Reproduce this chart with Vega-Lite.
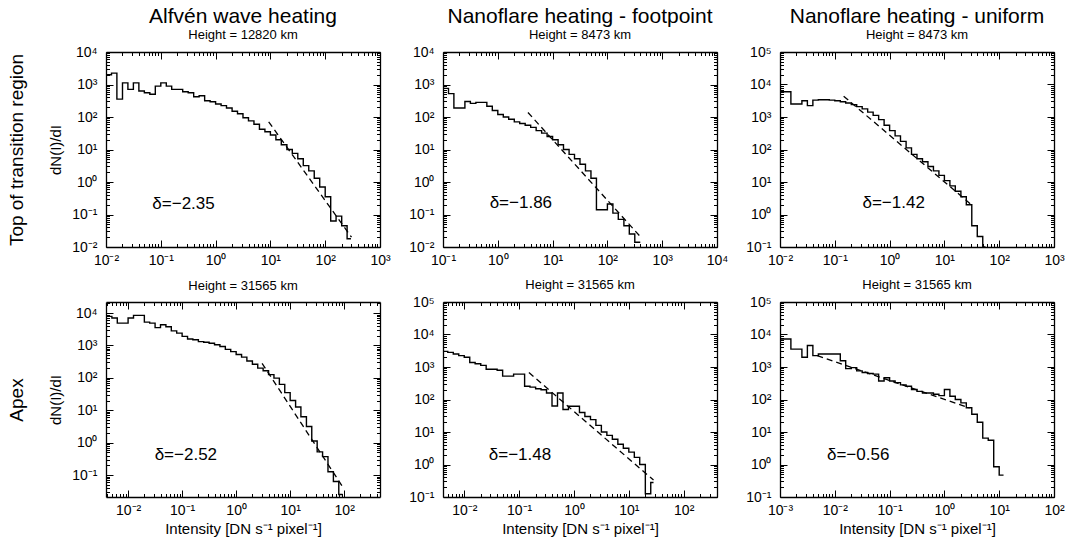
{
  "$schema": "https://vega.github.io/schema/vega-lite/v6.json",
  "background": "white",
  "padding": {"left": 7, "top": 6, "right": 15, "bottom": 3},
  "config": {
    "font": "Liberation Sans",
    "view": {"stroke": null},
    "axis": {"domainColor": "black", "domainWidth": 1.3, "tickColor": "black", "tickWidth": 1, "labelFont": "Liberation Sans", "labelFontSize": 14, "labelColor": "black", "titleFont": "Liberation Sans", "titleFontWeight": "normal", "titleColor": "black", "grid": false, "labelFlush": false, "labelOverlap": false, "tickCount": 20},
    "axisX": {"labelPadding": 13, "titleFontSize": 15, "titlePadding": 1},
    "axisY": {"labelPadding": 16, "titleFontSize": 15, "titlePadding": 8},
    "title": {"font": "Liberation Sans", "fontWeight": "normal", "fontSize": 21, "color": "black", "subtitleFont": "Liberation Sans", "subtitleFontSize": 13, "subtitleColor": "black", "subtitlePadding": 2, "offset": 3, "frame": "group", "anchor": "middle"}
  },
  "datasets": {
    "h1": [{"I":0.01,"N":2000},{"I":0.0126,"N":2240},{"I":0.0158,"N":355},{"I":0.02,"N":1120},{"I":0.0251,"N":710},{"I":0.0316,"N":1120},{"I":0.0398,"N":630},{"I":0.0501,"N":560},{"I":0.0631,"N":500},{"I":0.0794,"N":890},{"I":0.1,"N":1120},{"I":0.126,"N":890},{"I":0.158,"N":710},{"I":0.2,"N":710},{"I":0.251,"N":600},{"I":0.316,"N":560},{"I":0.398,"N":420},{"I":0.501,"N":450},{"I":0.631,"N":316},{"I":0.794,"N":295},{"I":1,"N":251},{"I":1.26,"N":224},{"I":1.58,"N":190},{"I":2,"N":151},{"I":2.51,"N":126},{"I":3.16,"N":95},{"I":3.98,"N":76},{"I":5.01,"N":60},{"I":6.31,"N":42},{"I":7.94,"N":35},{"I":10,"N":28},{"I":12.6,"N":20},{"I":15.8,"N":14},{"I":20,"N":10},{"I":25.1,"N":7.6},{"I":31.6,"N":5.2},{"I":39.8,"N":3.2},{"I":50.1,"N":2.2},{"I":63.1,"N":1.3},{"I":79.4,"N":0.7},{"I":100,"N":0.35},{"I":126,"N":0.063},{"I":158,"N":0.089},{"I":200,"N":0.045},{"I":251,"N":0.018},{"I":295,"N":0.018}],
    "f1": [{"I":9.3,"N":71},{"I":302,"N":0.02}],
    "h2": [{"I":0.1,"N":760},{"I":0.126,"N":525},{"I":0.158,"N":190},{"I":0.2,"N":190},{"I":0.251,"N":300},{"I":0.316,"N":263},{"I":0.398,"N":282},{"I":0.501,"N":282},{"I":0.631,"N":214},{"I":0.794,"N":158},{"I":1,"N":120},{"I":1.26,"N":100},{"I":1.58,"N":85},{"I":2,"N":71},{"I":2.51,"N":63},{"I":3.16,"N":56},{"I":3.98,"N":48},{"I":5.01,"N":38},{"I":6.31,"N":32},{"I":7.94,"N":25},{"I":10,"N":20},{"I":12.6,"N":14},{"I":15.8,"N":10},{"I":20,"N":7.1},{"I":25.1,"N":5.2},{"I":31.6,"N":3.5},{"I":39.8,"N":2.2},{"I":50.1,"N":1.3},{"I":63.1,"N":0.14},{"I":79.4,"N":0.14},{"I":100,"N":0.21},{"I":126,"N":0.11},{"I":158,"N":0.071},{"I":200,"N":0.045},{"I":251,"N":0.025},{"I":316,"N":0.014},{"I":398,"N":0.014}],
    "f2": [{"I":3.55,"N":138},{"I":398,"N":0.0209}],
    "h3": [{"I":0.01,"N":6000},{"I":0.0158,"N":2510},{"I":0.0251,"N":3160},{"I":0.0316,"N":2240},{"I":0.0398,"N":3310},{"I":0.0501,"N":3390},{"I":0.0631,"N":3390},{"I":0.0794,"N":3310},{"I":0.1,"N":3160},{"I":0.126,"N":2950},{"I":0.158,"N":2690},{"I":0.2,"N":2400},{"I":0.251,"N":2090},{"I":0.316,"N":1780},{"I":0.398,"N":1410},{"I":0.501,"N":1120},{"I":0.631,"N":830},{"I":0.794,"N":560},{"I":1,"N":380},{"I":1.26,"N":263},{"I":1.58,"N":178},{"I":2,"N":112},{"I":2.51,"N":71},{"I":3.16,"N":52},{"I":3.98,"N":42},{"I":5.01,"N":30},{"I":6.31,"N":22},{"I":7.94,"N":16},{"I":10,"N":11},{"I":12.6,"N":7.6},{"I":15.8,"N":5.2},{"I":20,"N":3.5},{"I":25.1,"N":2.0},{"I":31.6,"N":0.45},{"I":39.8,"N":0.21},{"I":50.1,"N":0.1},{"I":56.2,"N":0.1}],
    "f3": [{"I":0.145,"N":4365},{"I":33.1,"N":1.82}],
    "h4": [{"I":0.0039,"N":7940},{"I":0.00501,"N":7080},{"I":0.00631,"N":4900},{"I":0.00794,"N":4900},{"I":0.01,"N":7080},{"I":0.0126,"N":8510},{"I":0.0158,"N":8510},{"I":0.02,"N":5250},{"I":0.0251,"N":4900},{"I":0.0316,"N":3550},{"I":0.0398,"N":4370},{"I":0.0501,"N":3800},{"I":0.0631,"N":2820},{"I":0.0794,"N":2400},{"I":0.1,"N":1905},{"I":0.126,"N":1585},{"I":0.158,"N":1510},{"I":0.2,"N":1320},{"I":0.251,"N":1260},{"I":0.316,"N":1175},{"I":0.398,"N":1050},{"I":0.501,"N":933},{"I":0.631,"N":760},{"I":0.794,"N":646},{"I":1,"N":525},{"I":1.26,"N":437},{"I":1.58,"N":331},{"I":2,"N":263},{"I":2.51,"N":200},{"I":3.16,"N":166},{"I":3.98,"N":126},{"I":5.01,"N":98},{"I":6.31,"N":63},{"I":7.94,"N":35},{"I":10,"N":20},{"I":12.6,"N":12.6},{"I":15.8,"N":6.3},{"I":20,"N":3.16},{"I":25.1,"N":1.12},{"I":31.6,"N":0.52},{"I":39.8,"N":0.37},{"I":50.1,"N":0.126},{"I":63.1,"N":0.063},{"I":79.4,"N":0.025},{"I":93.3,"N":0.025}],
    "f4": [{"I":3.02,"N":282},{"I":97.7,"N":0.039}],
    "h5": [{"I":0.0041,"N":3020},{"I":0.00501,"N":2820},{"I":0.00631,"N":2510},{"I":0.00794,"N":2240},{"I":0.01,"N":2000},{"I":0.0126,"N":1380},{"I":0.0158,"N":1260},{"I":0.02,"N":1120},{"I":0.0251,"N":850},{"I":0.0316,"N":850},{"I":0.0398,"N":794},{"I":0.0501,"N":525},{"I":0.0631,"N":525},{"I":0.0794,"N":603},{"I":0.1,"N":603},{"I":0.126,"N":257},{"I":0.158,"N":240},{"I":0.2,"N":214},{"I":0.251,"N":200},{"I":0.316,"N":158},{"I":0.398,"N":63},{"I":0.501,"N":158},{"I":0.631,"N":49},{"I":0.794,"N":62},{"I":1,"N":62},{"I":1.26,"N":40},{"I":1.58,"N":30},{"I":2,"N":24},{"I":2.51,"N":16},{"I":3.16,"N":10},{"I":3.98,"N":7.9},{"I":5.01,"N":6.0},{"I":6.31,"N":4.2},{"I":7.94,"N":3.16},{"I":10,"N":2.4},{"I":12.6,"N":1.66},{"I":15.8,"N":1.0},{"I":20,"N":0.126},{"I":25.1,"N":0.28},{"I":28.2,"N":0.28}],
    "f5": [{"I":0.151,"N":676},{"I":28.2,"N":0.331}],
    "h6": [{"I":0.001,"N":7240},{"I":0.00158,"N":3550},{"I":0.00251,"N":2000},{"I":0.00316,"N":4570},{"I":0.00398,"N":2240},{"I":0.00501,"N":2510},{"I":0.0126,"N":1550},{"I":0.0158,"N":890},{"I":0.02,"N":955},{"I":0.0251,"N":760},{"I":0.0316,"N":676},{"I":0.0398,"N":631},{"I":0.0501,"N":603},{"I":0.0631,"N":372},{"I":0.0794,"N":468},{"I":0.1,"N":372},{"I":0.126,"N":331},{"I":0.158,"N":282},{"I":0.2,"N":257},{"I":0.251,"N":204},{"I":0.316,"N":178},{"I":0.398,"N":158},{"I":0.631,"N":145},{"I":0.794,"N":132},{"I":1,"N":204},{"I":1.26,"N":126},{"I":1.58,"N":100},{"I":2,"N":79},{"I":2.51,"N":56},{"I":3.16,"N":35},{"I":3.98,"N":20},{"I":5.01,"N":6.5},{"I":6.31,"N":5.6},{"I":7.94,"N":0.85},{"I":10,"N":0.47},{"I":12,"N":0.47}],
    "f6": [{"I":0.00479,"N":2240},{"I":2.88,"N":55}]
  },
  "columns": 3,
  "bounds": "flush",
  "spacing": {"row": 55, "column": 63},
  "concat": [
    {
      "width": 274, "height": 195,
      "title": {"text": "Alfvén wave heating", "subtitle": "Height = 12820 km"},
      "resolve": {"axis": {"x": "independent", "y": "independent"}},
      "layer": [
        {"data": {"name": "h1"}, "mark": {"type": "line", "interpolate": "step-after", "color": "black", "strokeWidth": 1.4, "clip": true},
         "encoding": {
           "x": {"field": "I", "type": "quantitative", "scale": {"type": "log", "domain": [0.01, 1000], "nice": false}, "axis": {"orient": "bottom", "title": null, "labelExpr": "abs(log(datum.value)/LN10-round(log(datum.value)/LN10))<0.001 ? '10'+replace(replace(replace(replace(replace(replace(replace(''+round(log(datum.value)/LN10),'-','⁻'),'0','⁰'),'1','¹'),'2','²'),'3','³'),'4','⁴'),'5','⁵') : ''", "tickSize": {"condition": {"test": "abs(log(datum.value)/LN10-round(log(datum.value)/LN10))<0.001", "value": -7}, "value": -3.5}}},
           "y": {"field": "N", "type": "quantitative", "scale": {"type": "log", "domain": [0.01, 10000], "nice": false}, "axis": {"orient": "left", "title": "dN(I)/dI", "labelExpr": "abs(log(datum.value)/LN10-round(log(datum.value)/LN10))<0.001 ? '10'+replace(replace(replace(replace(replace(replace(replace(''+round(log(datum.value)/LN10),'-','⁻'),'0','⁰'),'1','¹'),'2','²'),'3','³'),'4','⁴'),'5','⁵') : ''", "tickSize": {"condition": {"test": "abs(log(datum.value)/LN10-round(log(datum.value)/LN10))<0.001", "value": -7}, "value": -3.5}}}
         }},
        {"data": {"name": "f1"}, "mark": {"type": "line", "color": "black", "strokeWidth": 1.3, "strokeDash": [6, 4], "clip": true},
         "encoding": {
           "x": {"field": "I", "type": "quantitative", "scale": {"type": "log", "domain": [0.01, 1000], "nice": false}, "axis": {"orient": "top", "title": null, "labels": false, "tickSize": {"condition": {"test": "abs(log(datum.value)/LN10-round(log(datum.value)/LN10))<0.001", "value": -7}, "value": -3.5}}},
           "y": {"field": "N", "type": "quantitative", "scale": {"type": "log", "domain": [0.01, 10000], "nice": false}, "axis": {"orient": "right", "title": null, "labels": false, "tickSize": {"condition": {"test": "abs(log(datum.value)/LN10-round(log(datum.value)/LN10))<0.001", "value": -7}, "value": -3.5}}}
         }},
        {"data": {"values": [{"I": 0.07, "N": 0.21, "t": "δ=−2.35"}]}, "mark": {"type": "text", "align": "left", "baseline": "middle", "fontSize": 17, "font": "Liberation Sans", "color": "black"},
         "encoding": {
           "x": {"field": "I", "type": "quantitative", "scale": {"type": "log", "domain": [0.01, 1000], "nice": false}, "axis": null},
           "y": {"field": "N", "type": "quantitative", "scale": {"type": "log", "domain": [0.01, 10000], "nice": false}, "axis": {"orient": "left", "title": "Top of transition region", "titleFontSize": 19, "titlePadding": 80, "labels": false, "ticks": false, "domain": false}},
           "text": {"field": "t"}
         }}
      ]
    },
    {
      "width": 274, "height": 195,
      "title": {"text": "Nanoflare heating - footpoint", "subtitle": "Height = 8473 km"},
      "resolve": {"axis": {"x": "independent", "y": "independent"}},
      "layer": [
        {"data": {"name": "h2"}, "mark": {"type": "line", "interpolate": "step-after", "color": "black", "strokeWidth": 1.4, "clip": true},
         "encoding": {
           "x": {"field": "I", "type": "quantitative", "scale": {"type": "log", "domain": [0.1, 10000], "nice": false}, "axis": {"orient": "bottom", "title": null, "labelExpr": "abs(log(datum.value)/LN10-round(log(datum.value)/LN10))<0.001 ? '10'+replace(replace(replace(replace(replace(replace(replace(''+round(log(datum.value)/LN10),'-','⁻'),'0','⁰'),'1','¹'),'2','²'),'3','³'),'4','⁴'),'5','⁵') : ''", "tickSize": {"condition": {"test": "abs(log(datum.value)/LN10-round(log(datum.value)/LN10))<0.001", "value": -7}, "value": -3.5}}},
           "y": {"field": "N", "type": "quantitative", "scale": {"type": "log", "domain": [0.01, 10000], "nice": false}, "axis": {"orient": "left", "title": null, "labelExpr": "abs(log(datum.value)/LN10-round(log(datum.value)/LN10))<0.001 ? '10'+replace(replace(replace(replace(replace(replace(replace(''+round(log(datum.value)/LN10),'-','⁻'),'0','⁰'),'1','¹'),'2','²'),'3','³'),'4','⁴'),'5','⁵') : ''", "tickSize": {"condition": {"test": "abs(log(datum.value)/LN10-round(log(datum.value)/LN10))<0.001", "value": -7}, "value": -3.5}}}
         }},
        {"data": {"name": "f2"}, "mark": {"type": "line", "color": "black", "strokeWidth": 1.3, "strokeDash": [6, 4], "clip": true},
         "encoding": {
           "x": {"field": "I", "type": "quantitative", "scale": {"type": "log", "domain": [0.1, 10000], "nice": false}, "axis": {"orient": "top", "title": null, "labels": false, "tickSize": {"condition": {"test": "abs(log(datum.value)/LN10-round(log(datum.value)/LN10))<0.001", "value": -7}, "value": -3.5}}},
           "y": {"field": "N", "type": "quantitative", "scale": {"type": "log", "domain": [0.01, 10000], "nice": false}, "axis": {"orient": "right", "title": null, "labels": false, "tickSize": {"condition": {"test": "abs(log(datum.value)/LN10-round(log(datum.value)/LN10))<0.001", "value": -7}, "value": -3.5}}}
         }},
        {"data": {"values": [{"I": 0.71, "N": 0.22, "t": "δ=−1.86"}]}, "mark": {"type": "text", "align": "left", "baseline": "middle", "fontSize": 17, "font": "Liberation Sans", "color": "black"},
         "encoding": {
           "x": {"field": "I", "type": "quantitative", "scale": {"type": "log", "domain": [0.1, 10000], "nice": false}, "axis": null},
           "y": {"field": "N", "type": "quantitative", "scale": {"type": "log", "domain": [0.01, 10000], "nice": false}, "axis": null},
           "text": {"field": "t"}
         }}
      ]
    },
    {
      "width": 274, "height": 195,
      "title": {"text": "Nanoflare heating - uniform", "subtitle": "Height = 8473 km"},
      "resolve": {"axis": {"x": "independent", "y": "independent"}},
      "layer": [
        {"data": {"name": "h3"}, "mark": {"type": "line", "interpolate": "step-after", "color": "black", "strokeWidth": 1.4, "clip": true},
         "encoding": {
           "x": {"field": "I", "type": "quantitative", "scale": {"type": "log", "domain": [0.01, 1000], "nice": false}, "axis": {"orient": "bottom", "title": null, "labelExpr": "abs(log(datum.value)/LN10-round(log(datum.value)/LN10))<0.001 ? '10'+replace(replace(replace(replace(replace(replace(replace(''+round(log(datum.value)/LN10),'-','⁻'),'0','⁰'),'1','¹'),'2','²'),'3','³'),'4','⁴'),'5','⁵') : ''", "tickSize": {"condition": {"test": "abs(log(datum.value)/LN10-round(log(datum.value)/LN10))<0.001", "value": -7}, "value": -3.5}}},
           "y": {"field": "N", "type": "quantitative", "scale": {"type": "log", "domain": [0.1, 100000], "nice": false}, "axis": {"orient": "left", "title": null, "labelExpr": "abs(log(datum.value)/LN10-round(log(datum.value)/LN10))<0.001 ? '10'+replace(replace(replace(replace(replace(replace(replace(''+round(log(datum.value)/LN10),'-','⁻'),'0','⁰'),'1','¹'),'2','²'),'3','³'),'4','⁴'),'5','⁵') : ''", "tickSize": {"condition": {"test": "abs(log(datum.value)/LN10-round(log(datum.value)/LN10))<0.001", "value": -7}, "value": -3.5}}}
         }},
        {"data": {"name": "f3"}, "mark": {"type": "line", "color": "black", "strokeWidth": 1.3, "strokeDash": [6, 4], "clip": true},
         "encoding": {
           "x": {"field": "I", "type": "quantitative", "scale": {"type": "log", "domain": [0.01, 1000], "nice": false}, "axis": {"orient": "top", "title": null, "labels": false, "tickSize": {"condition": {"test": "abs(log(datum.value)/LN10-round(log(datum.value)/LN10))<0.001", "value": -7}, "value": -3.5}}},
           "y": {"field": "N", "type": "quantitative", "scale": {"type": "log", "domain": [0.1, 100000], "nice": false}, "axis": {"orient": "right", "title": null, "labels": false, "tickSize": {"condition": {"test": "abs(log(datum.value)/LN10-round(log(datum.value)/LN10))<0.001", "value": -7}, "value": -3.5}}}
         }},
        {"data": {"values": [{"I": 0.32, "N": 2.3, "t": "δ=−1.42"}]}, "mark": {"type": "text", "align": "left", "baseline": "middle", "fontSize": 17, "font": "Liberation Sans", "color": "black"},
         "encoding": {
           "x": {"field": "I", "type": "quantitative", "scale": {"type": "log", "domain": [0.01, 1000], "nice": false}, "axis": null},
           "y": {"field": "N", "type": "quantitative", "scale": {"type": "log", "domain": [0.1, 100000], "nice": false}, "axis": null},
           "text": {"field": "t"}
         }}
      ]
    },
    {
      "width": 274, "height": 195,
      "title": {"text": "Height = 31565 km", "fontSize": 13, "offset": 3},
      "resolve": {"axis": {"x": "independent", "y": "independent"}},
      "layer": [
        {"data": {"name": "h4"}, "mark": {"type": "line", "interpolate": "step-after", "color": "black", "strokeWidth": 1.4, "clip": true},
         "encoding": {
           "x": {"field": "I", "type": "quantitative", "scale": {"type": "log", "domain": [0.0039, 460], "nice": false}, "axis": {"orient": "bottom", "title": "Intensity [DN s⁻¹ pixel⁻¹]", "labelExpr": "abs(log(datum.value)/LN10-round(log(datum.value)/LN10))<0.001 ? '10'+replace(replace(replace(replace(replace(replace(replace(''+round(log(datum.value)/LN10),'-','⁻'),'0','⁰'),'1','¹'),'2','²'),'3','³'),'4','⁴'),'5','⁵') : ''", "tickSize": {"condition": {"test": "abs(log(datum.value)/LN10-round(log(datum.value)/LN10))<0.001", "value": -7}, "value": -3.5}}},
           "y": {"field": "N", "type": "quantitative", "scale": {"type": "log", "domain": [0.021, 22000], "nice": false}, "axis": {"orient": "left", "title": "dN(I)/dI", "labelExpr": "abs(log(datum.value)/LN10-round(log(datum.value)/LN10))<0.001 ? '10'+replace(replace(replace(replace(replace(replace(replace(''+round(log(datum.value)/LN10),'-','⁻'),'0','⁰'),'1','¹'),'2','²'),'3','³'),'4','⁴'),'5','⁵') : ''", "tickSize": {"condition": {"test": "abs(log(datum.value)/LN10-round(log(datum.value)/LN10))<0.001", "value": -7}, "value": -3.5}}}
         }},
        {"data": {"name": "f4"}, "mark": {"type": "line", "color": "black", "strokeWidth": 1.3, "strokeDash": [6, 4], "clip": true},
         "encoding": {
           "x": {"field": "I", "type": "quantitative", "scale": {"type": "log", "domain": [0.0039, 460], "nice": false}, "axis": {"orient": "top", "title": null, "labels": false, "tickSize": {"condition": {"test": "abs(log(datum.value)/LN10-round(log(datum.value)/LN10))<0.001", "value": -7}, "value": -3.5}}},
           "y": {"field": "N", "type": "quantitative", "scale": {"type": "log", "domain": [0.021, 22000], "nice": false}, "axis": {"orient": "right", "title": null, "labels": false, "tickSize": {"condition": {"test": "abs(log(datum.value)/LN10-round(log(datum.value)/LN10))<0.001", "value": -7}, "value": -3.5}}}
         }},
        {"data": {"values": [{"I": 0.031, "N": 0.42, "t": "δ=−2.52"}]}, "mark": {"type": "text", "align": "left", "baseline": "middle", "fontSize": 17, "font": "Liberation Sans", "color": "black"},
         "encoding": {
           "x": {"field": "I", "type": "quantitative", "scale": {"type": "log", "domain": [0.0039, 460], "nice": false}, "axis": null},
           "y": {"field": "N", "type": "quantitative", "scale": {"type": "log", "domain": [0.021, 22000], "nice": false}, "axis": {"orient": "left", "title": "Apex", "titleFontSize": 19, "titlePadding": 80, "labels": false, "ticks": false, "domain": false}},
           "text": {"field": "t"}
         }}
      ]
    },
    {
      "width": 274, "height": 195,
      "title": {"text": "Height = 31565 km", "fontSize": 13, "offset": 3},
      "resolve": {"axis": {"x": "independent", "y": "independent"}},
      "layer": [
        {"data": {"name": "h5"}, "mark": {"type": "line", "interpolate": "step-after", "color": "black", "strokeWidth": 1.4, "clip": true},
         "encoding": {
           "x": {"field": "I", "type": "quantitative", "scale": {"type": "log", "domain": [0.0041, 405], "nice": false}, "axis": {"orient": "bottom", "title": "Intensity [DN s⁻¹ pixel⁻¹]", "labelExpr": "abs(log(datum.value)/LN10-round(log(datum.value)/LN10))<0.001 ? '10'+replace(replace(replace(replace(replace(replace(replace(''+round(log(datum.value)/LN10),'-','⁻'),'0','⁰'),'1','¹'),'2','²'),'3','³'),'4','⁴'),'5','⁵') : ''", "tickSize": {"condition": {"test": "abs(log(datum.value)/LN10-round(log(datum.value)/LN10))<0.001", "value": -7}, "value": -3.5}}},
           "y": {"field": "N", "type": "quantitative", "scale": {"type": "log", "domain": [0.1, 100000], "nice": false}, "axis": {"orient": "left", "title": null, "labelExpr": "abs(log(datum.value)/LN10-round(log(datum.value)/LN10))<0.001 ? '10'+replace(replace(replace(replace(replace(replace(replace(''+round(log(datum.value)/LN10),'-','⁻'),'0','⁰'),'1','¹'),'2','²'),'3','³'),'4','⁴'),'5','⁵') : ''", "tickSize": {"condition": {"test": "abs(log(datum.value)/LN10-round(log(datum.value)/LN10))<0.001", "value": -7}, "value": -3.5}}}
         }},
        {"data": {"name": "f5"}, "mark": {"type": "line", "color": "black", "strokeWidth": 1.3, "strokeDash": [6, 4], "clip": true},
         "encoding": {
           "x": {"field": "I", "type": "quantitative", "scale": {"type": "log", "domain": [0.0041, 405], "nice": false}, "axis": {"orient": "top", "title": null, "labels": false, "tickSize": {"condition": {"test": "abs(log(datum.value)/LN10-round(log(datum.value)/LN10))<0.001", "value": -7}, "value": -3.5}}},
           "y": {"field": "N", "type": "quantitative", "scale": {"type": "log", "domain": [0.1, 100000], "nice": false}, "axis": {"orient": "right", "title": null, "labels": false, "tickSize": {"condition": {"test": "abs(log(datum.value)/LN10-round(log(datum.value)/LN10))<0.001", "value": -7}, "value": -3.5}}}
         }},
        {"data": {"values": [{"I": 0.028, "N": 1.95, "t": "δ=−1.48"}]}, "mark": {"type": "text", "align": "left", "baseline": "middle", "fontSize": 17, "font": "Liberation Sans", "color": "black"},
         "encoding": {
           "x": {"field": "I", "type": "quantitative", "scale": {"type": "log", "domain": [0.0041, 405], "nice": false}, "axis": null},
           "y": {"field": "N", "type": "quantitative", "scale": {"type": "log", "domain": [0.1, 100000], "nice": false}, "axis": null},
           "text": {"field": "t"}
         }}
      ]
    },
    {
      "width": 274, "height": 195,
      "title": {"text": "Height = 31565 km", "fontSize": 13, "offset": 3},
      "resolve": {"axis": {"x": "independent", "y": "independent"}},
      "layer": [
        {"data": {"name": "h6"}, "mark": {"type": "line", "interpolate": "step-after", "color": "black", "strokeWidth": 1.4, "clip": true},
         "encoding": {
           "x": {"field": "I", "type": "quantitative", "scale": {"type": "log", "domain": [0.001, 100], "nice": false}, "axis": {"orient": "bottom", "title": "Intensity [DN s⁻¹ pixel⁻¹]", "labelExpr": "abs(log(datum.value)/LN10-round(log(datum.value)/LN10))<0.001 ? '10'+replace(replace(replace(replace(replace(replace(replace(''+round(log(datum.value)/LN10),'-','⁻'),'0','⁰'),'1','¹'),'2','²'),'3','³'),'4','⁴'),'5','⁵') : ''", "tickSize": {"condition": {"test": "abs(log(datum.value)/LN10-round(log(datum.value)/LN10))<0.001", "value": -7}, "value": -3.5}}},
           "y": {"field": "N", "type": "quantitative", "scale": {"type": "log", "domain": [0.1, 100000], "nice": false}, "axis": {"orient": "left", "title": null, "labelExpr": "abs(log(datum.value)/LN10-round(log(datum.value)/LN10))<0.001 ? '10'+replace(replace(replace(replace(replace(replace(replace(''+round(log(datum.value)/LN10),'-','⁻'),'0','⁰'),'1','¹'),'2','²'),'3','³'),'4','⁴'),'5','⁵') : ''", "tickSize": {"condition": {"test": "abs(log(datum.value)/LN10-round(log(datum.value)/LN10))<0.001", "value": -7}, "value": -3.5}}}
         }},
        {"data": {"name": "f6"}, "mark": {"type": "line", "color": "black", "strokeWidth": 1.3, "strokeDash": [6, 4], "clip": true},
         "encoding": {
           "x": {"field": "I", "type": "quantitative", "scale": {"type": "log", "domain": [0.001, 100], "nice": false}, "axis": {"orient": "top", "title": null, "labels": false, "tickSize": {"condition": {"test": "abs(log(datum.value)/LN10-round(log(datum.value)/LN10))<0.001", "value": -7}, "value": -3.5}}},
           "y": {"field": "N", "type": "quantitative", "scale": {"type": "log", "domain": [0.1, 100000], "nice": false}, "axis": {"orient": "right", "title": null, "labels": false, "tickSize": {"condition": {"test": "abs(log(datum.value)/LN10-round(log(datum.value)/LN10))<0.001", "value": -7}, "value": -3.5}}}
         }},
        {"data": {"values": [{"I": 0.0072, "N": 1.95, "t": "δ=−0.56"}]}, "mark": {"type": "text", "align": "left", "baseline": "middle", "fontSize": 17, "font": "Liberation Sans", "color": "black"},
         "encoding": {
           "x": {"field": "I", "type": "quantitative", "scale": {"type": "log", "domain": [0.001, 100], "nice": false}, "axis": null},
           "y": {"field": "N", "type": "quantitative", "scale": {"type": "log", "domain": [0.1, 100000], "nice": false}, "axis": null},
           "text": {"field": "t"}
         }}
      ]
    }
  ]
}
